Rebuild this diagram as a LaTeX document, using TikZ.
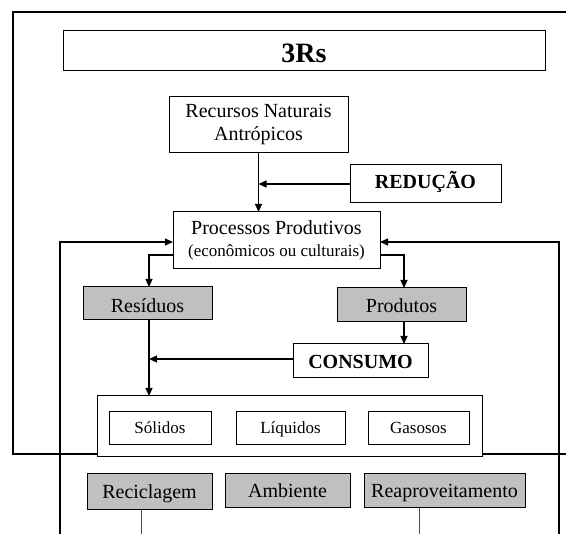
\documentclass[tikz,border=0pt]{standalone}
\usepackage{fontspec}
\setmainfont{Liberation Serif}
\usetikzlibrary{arrows.meta}
\definecolor{boxgray}{HTML}{C0C0C0}
\tikzset{
  box/.style={draw=black, line width=1pt, fill=white, inner sep=0pt, outer sep=0pt, align=center, font=\fontsize{20}{23}\selectfont},
  graybox/.style={box, fill=boxgray, text height=18pt, text depth=2pt},
  lowbox/.style={box, fill=boxgray, text height=16pt, text depth=3pt},
  smallbox/.style={box, text height=13pt, text depth=3pt, font=\fontsize{17}{20}\selectfont},
  boldtext/.style={font=\fontsize{20}{23}\selectfont\bfseries},
  conn/.style={line width=1.2pt, -{Triangle[length=8pt,width=7pt]}},
  thin/.style={line width=0.8pt, draw=black!70},
  frame/.style={line width=1.8pt}
}
\begin{document}
\begin{tikzpicture}[x=1pt,y=-1pt]
\useasboundingbox (0,0) rectangle (566,534);
% outer frame
\draw[frame] (570,12) -- (13,12) -- (13,454) -- (570,454);
% nodes
\node[box, text height=25pt, text depth=2pt, minimum width=482pt, minimum height=40pt, font=\fontsize{28}{30}\selectfont\bfseries] (title) at (304,51) {3Rs};
\node[box, minimum width=179pt, minimum height=56pt] (rec) at (258.5,125) {Recursos Naturais\\Antrópicos};
\node[box, boldtext, text height=14pt, text depth=4pt, minimum width=151pt, minimum height=38pt] (red) at (425.5,184) {REDUÇÃO};
\node[box, minimum width=207pt, minimum height=57pt] (proc) at (276.5,240.5) {Processos Produtivos\\[-1pt]{\fontsize{17}{20}\selectfont(econômicos ou culturais)}};
\node[graybox, text height=19.5pt, minimum width=129pt, minimum height=33pt] (res) at (147.5,303.5) {Resíduos};
\node[graybox, minimum width=129pt, minimum height=34pt] (prod) at (401.5,305) {Produtos};
\node[box, boldtext, text height=18pt, text depth=2pt, minimum width=135pt, minimum height=34pt] (cons) at (360.5,361) {CONSUMO};
\node[box, minimum width=385pt, minimum height=61pt] (cont) at (289.5,426.5) {};
\node[smallbox, minimum width=102pt, minimum height=33pt] (sol) at (160,428.5) {Sólidos};
\node[smallbox, minimum width=109pt, minimum height=33pt] (liq) at (290.5,428.5) {Líquidos};
\node[smallbox, minimum width=101pt, minimum height=33pt] (gas) at (418.5,428.5) {Gasosos};
\node[lowbox, minimum width=125pt, minimum height=36pt] (recic) at (149.5,492) {Reciclagem};
\node[lowbox, minimum width=125pt, minimum height=34pt] (amb) at (287.5,491) {Ambiente};
\node[lowbox, minimum width=161pt, minimum height=34pt] (reap) at (444.5,491) {Reaproveitamento};
% free ends and helper points
\coordinate (lb) at (60,534);
\coordinate (rb) at (559,534);
\coordinate (recicEnd) at (141,534);
\coordinate (reapEnd) at (419,534);
\coordinate (resdown) at ([xshift=1.5pt]res.south);
% connectors
\draw[conn] (rec.south) -- (rec.south |- proc.north);
\draw[conn] (red.west) -- (red.west -| rec.south);
\draw[conn] (lb) |- ([yshift=-1.5pt]proc.west);
\draw[conn] (rb) |- ([yshift=-1.5pt]proc.east);
\draw[conn] ([yshift=-14.5pt]proc.west) -| ([xshift=1.5pt]res.north);
\draw[conn] ([yshift=-14.5pt]proc.east) -| ([xshift=2.5pt]prod.north);
\draw[conn] ([xshift=2.5pt]prod.south) -- ([xshift=2.5pt]prod.south |- cons.north);
\draw[conn] (resdown) -- (resdown |- cont.north);
\draw[conn] ([yshift=2pt]cons.west) -- ([yshift=2pt]cons.west -| resdown);
\draw[thin] (recic.south -| recicEnd) -- (recicEnd);
\draw[thin] (reap.south -| reapEnd) -- (reapEnd);
\end{tikzpicture}
\end{document}
